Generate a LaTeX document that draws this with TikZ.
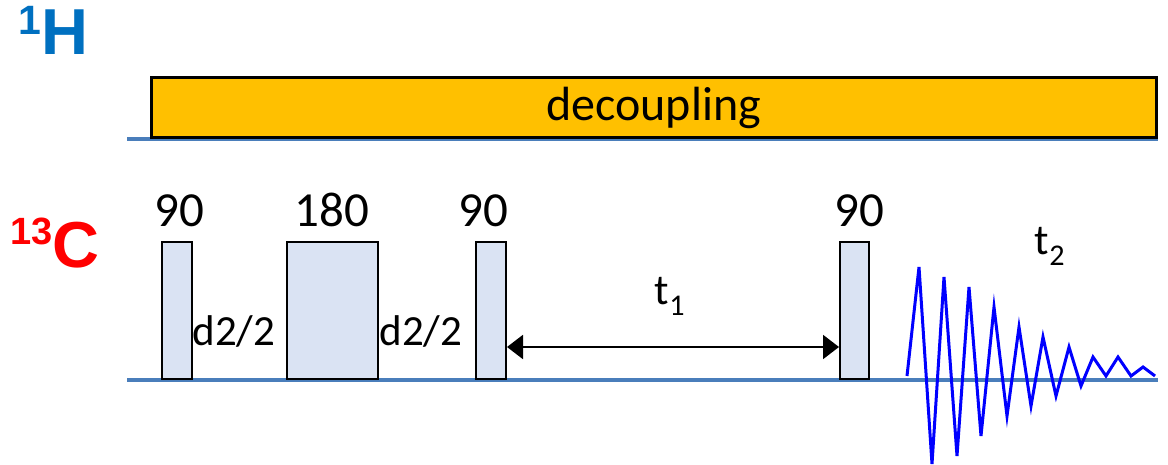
\documentclass[tikz,border=0pt]{standalone}
\usepackage{fontspec}
\setmainfont{Carlito}
\newfontfamily\labelfont{Liberation Sans}
\usetikzlibrary{arrows.meta}
\definecolor{axisblue}{HTML}{4A7EBB}
\definecolor{hblue}{HTML}{0070C0}
\definecolor{decoyellow}{HTML}{FFC000}
\definecolor{pulsefill}{HTML}{DAE3F3}
\definecolor{fidblue}{HTML}{0000FF}
\tikzset{
  axisline/.style={draw=axisblue, line width=4pt},
  pulse/.style={draw=black, fill=pulsefill, line width=2pt, inner sep=0pt, anchor=south west},
  angle/.style={font=\fontsize{49}{53}\selectfont, anchor=base, inner sep=0pt},
  delay/.style={font=\fontsize{43}{47}\selectfont, anchor=base, inner sep=0pt},
  nucleus/.style={font=\labelfont\bfseries\fontsize{65}{70}\selectfont, anchor=base west, inner sep=0pt},
}
\begin{document}
\begin{tikzpicture}[x=1pt, y=-1pt]
  \useasboundingbox (0,0) rectangle (1168,465);

  % channel labels
  \node[nucleus, text=hblue] (hlab) at (18,55) {\raisebox{20pt}{\fontsize{41}{45}\selectfont 1}H};
  \node[nucleus, text=red] (clab) at (10,268) {\raisebox{23pt}{\fontsize{38}{42}\selectfont 13}C};

  % baselines of the two channels
  \coordinate (hstart) at (127,139);
  \coordinate (hend) at (1158,139);
  \coordinate (cstart) at (127,380);
  \coordinate (cend) at (1158,380);
  \draw[axisline] (hstart) -- (hend);
  \draw[axisline] (cstart) -- (cend);

  % proton decoupling block
  \node[draw=black, fill=decoyellow, line width=2.5pt, inner sep=0pt, anchor=south west,
        minimum width=1005pt, minimum height=60pt,
        font=\fontsize{48}{52}\selectfont] (deco) at (150,139) {decoupling};

  % carbon pulses
  \node[pulse, minimum width=30pt, minimum height=137pt] (p1) at (161,380) {};
  \node[pulse, minimum width=91pt, minimum height=137pt] (p2) at (286,380) {};
  \node[pulse, minimum width=30pt, minimum height=137pt] (p3) at (475,380) {};
  \node[pulse, minimum width=29pt, minimum height=137pt] (p4) at (839,380) {};

  % flip angles
  \node[angle] (a1) at (179,227) {90};
  \node[angle] (a2) at (332,227) {180};
  \node[angle] (a3) at (483,227) {90};
  \node[angle] (a4) at (859,227) {90};

  % delays
  \node[delay] (d1) at (234,345) {d2/2};
  \node[delay] (d2) at (421,345) {d2/2};

  % evolution period
  \coordinate (t1l) at (p3.east |- 0,347);
  \coordinate (t1r) at (p4.west |- 0,347);
  \draw[line width=2pt, {Triangle[length=16pt,width=24pt]}-{Triangle[length=16pt,width=24pt]}] (t1l) -- (t1r);
  \node[delay] (t1) at (670,305) {t\textsubscript{1}};

  % acquisition
  \node[delay] (t2) at (1050,255) {t\textsubscript{2}};
  \draw[fidblue, line width=3pt, line join=miter]
    (907,376) -- (919,267) -- (932,464) -- (944,277) -- (957,456) -- (969,287)
    -- (981,436) -- (994,307) -- (1007,416) -- (1019,327) -- (1031,406)
    -- (1043,337) -- (1056,396) -- (1069,347) -- (1081,386) -- (1093,357)
    -- (1106,376) -- (1118,357) -- (1131,376) -- (1143,367) -- (1155,376);
\end{tikzpicture}
\end{document}
